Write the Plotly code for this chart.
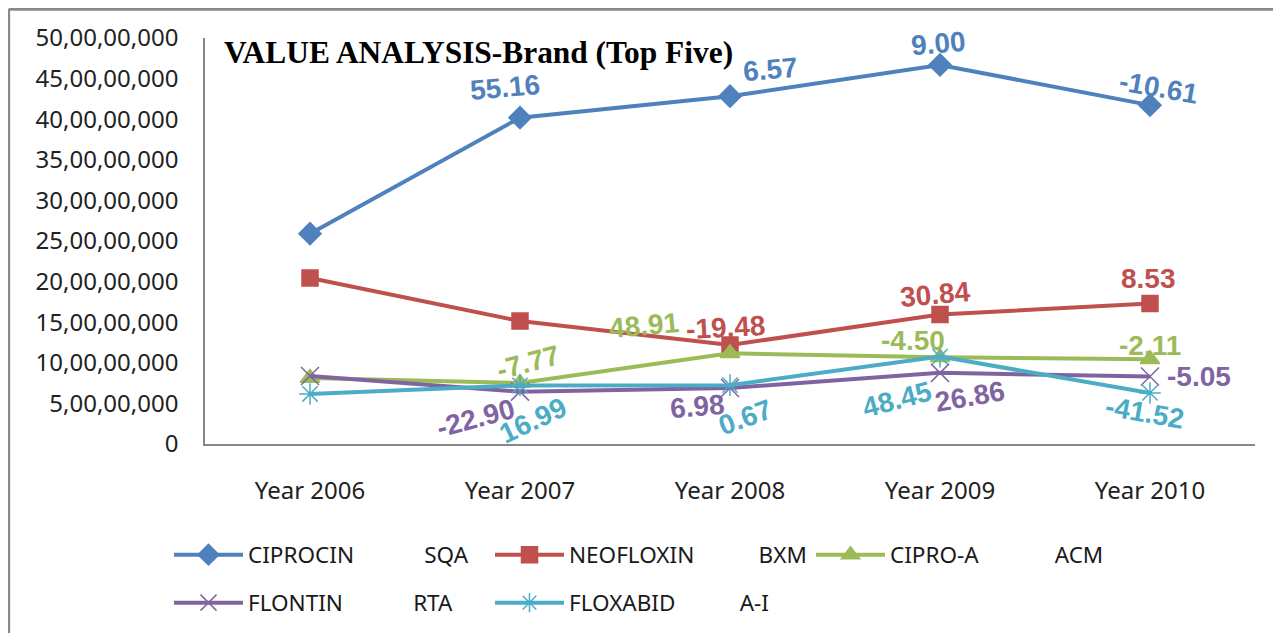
import plotly.graph_objects as go

YEARS = ['Year 2006', 'Year 2007', 'Year 2008', 'Year 2009', 'Year 2010']

CIPROCIN = [259.0e6, 401.9e6, 428.3e6, 466.8e6, 417.3e6]
NEOFLOXIN = [204.4e6, 151.4e6, 121.9e6, 159.5e6, 173.1e6]
CIPRO_A = [81.3e6, 75.0e6, 111.7e6, 106.7e6, 104.4e6]
FLONTIN = [83.7e6, 64.5e6, 69.0e6, 87.6e6, 83.2e6]
FLOXABID = [61.6e6, 72.1e6, 72.5e6, 107.6e6, 62.9e6]

# growth % labels (None = no label)
CIPROCIN_G = [None, '55.16', '6.57', '9.00', '-10.61']
NEOFLOXIN_G = [None, None, '-19.48', '30.84', '8.53']
CIPRO_A_G = [None, '-7.77', '48.91', '-4.50', '-2.11']
FLONTIN_G = [None, '-22.90', '6.98', '26.86', '-5.05']
FLOXABID_G = [None, '16.99', '0.67', '48.45', '-41.52']

Y_TICKS = [0, 50e6, 100e6, 150e6, 200e6, 250e6, 300e6, 350e6, 400e6, 450e6, 500e6]


def indian(v):
    s = str(int(v))
    if len(s) <= 3:
        return s
    head, tail = s[:-3], s[-3:]
    parts = []
    while len(head) > 2:
        parts.insert(0, head[-2:])
        head = head[:-2]
    if head:
        parts.insert(0, head)
    return ','.join(parts + [tail])


NB = '\u00a0'
series = [
    ('CIPROCIN' + NB * 12 + 'SQA', CIPROCIN, CIPROCIN_G, '#4F81BD', 'diamond', 17, 'legend'),
    ('NEOFLOXIN' + NB * 11 + 'BXM', NEOFLOXIN, NEOFLOXIN_G, '#C0504D', 'square', 16, 'legend'),
    ('CIPRO-A' + NB * 13 + 'ACM', CIPRO_A, CIPRO_A_G, '#9BBB59', 'triangle-up', 17, 'legend'),
    ('FLONTIN' + NB * 12 + 'RTA', FLONTIN, FLONTIN_G, '#8064A2', 'x-thin-open', 18, 'legend2'),
    ('FLOXABID' + NB * 11 + 'A-I', FLOXABID, FLOXABID_G, '#4BACC6', 'asterisk-open', 18, 'legend2'),
]

# label offsets (dx, dy, angle) per series per point
offsets = [
    [None, (-15, -30, -5), (40, -27, -5), (-2, -21, -5), (8, -18, 10)],
    [None, None, (-5, -18, -3), (-5, -20, -5), (-2, -25, 0)],
    [None, (8, -21, -15), (-86, -28, -5), (-27, -17, 0), (0, -14, 0)],
    [None, (-45, 27, -15), (-33, 19, -5), (30, 24, -10), (49, 0, 0)],
    [None, (13, 35, -25), (15, 32, -20), (-43, 43, -15), (-6, 20, 10)],
]

fig = go.Figure()
annotations = []
for (name, vals, growth, color, sym, size, lg), offs in zip(series, offsets):
    fig.add_trace(go.Scatter(
        x=YEARS, y=vals, name=name, mode='lines+markers', legend=lg,
        line=dict(color=color, width=4),
        marker=dict(symbol=sym, size=size, color=color,
                    line=dict(color=color, width=1.5)),
    ))
    for i, g in enumerate(growth):
        if g is None:
            continue
        dx, dy, ang = offs[i]
        annotations.append(dict(
            x=YEARS[i], y=vals[i], text=g, showarrow=False,
            xshift=dx, yshift=-dy, textangle=ang,
            font=dict(family='Liberation Sans', size=28, color=color, weight='bold'),
        ))

annotations.append(dict(
    xref='paper', yref='paper', x=0.016, y=0.965, xanchor='left', yanchor='middle',
    text='<b>VALUE ANALYSIS-Brand (Top Five)</b>', showarrow=False,
    font=dict(family='Liberation Serif', size=31.4, color='black'),
))

W, H = 1273, 625
legend_font = dict(family='Noto Sans', size=22.5, color='#1a1a1a')
fig.update_layout(
    width=W, height=H,
    margin=dict(l=197, r=26, t=30, b=189),
    paper_bgcolor='white', plot_bgcolor='white',
    font=dict(family='Noto Sans', size=24, color='#222'),
    annotations=annotations,
    showlegend=True,
    legend=dict(orientation='h', xref='container', yref='container',
                x=161 / W, y=1 - 547 / H, xanchor='left', yanchor='middle',
                entrywidth=237, entrywidthmode='pixels', itemwidth=69,
                font=legend_font, bgcolor='rgba(0,0,0,0)'),
    legend2=dict(orientation='h', xref='container', yref='container',
                 x=161 / W, y=1 - 595 / H, xanchor='left', yanchor='middle',
                 entrywidth=237, entrywidthmode='pixels', itemwidth=69,
                 font=legend_font, bgcolor='rgba(0,0,0,0)'),
    shapes=[
        dict(type='line', xref='paper', yref='paper', x0=-0.187, x1=1.05, y0=1.071, y1=1.071,
             line=dict(color='#888', width=3)),
        dict(type='line', xref='paper', yref='paper', x0=-0.187, x1=-0.187, y0=1.071, y1=-0.5,
             line=dict(color='#888', width=3)),
    ],
)
fig.update_xaxes(
    range=[-0.5, 4.5], showline=True, linecolor='#888', linewidth=1.5,
    ticks='outside', ticklen=24, tickcolor='rgba(0,0,0,0)', showgrid=False,
    tickfont=dict(family='Noto Sans', size=24, color='#222'), automargin=False,
)
fig.update_yaxes(
    range=[0, 500e6], showline=True, linecolor='#888', linewidth=1.5,
    tickvals=Y_TICKS, ticktext=[indian(v) for v in Y_TICKS],
    ticks='outside', ticklen=20, tickcolor='rgba(0,0,0,0)', showgrid=False,
    zeroline=False, tickfont=dict(family='Noto Sans', size=24, color='#222'),
    automargin=False,
)

fig.write_html('out.html')
